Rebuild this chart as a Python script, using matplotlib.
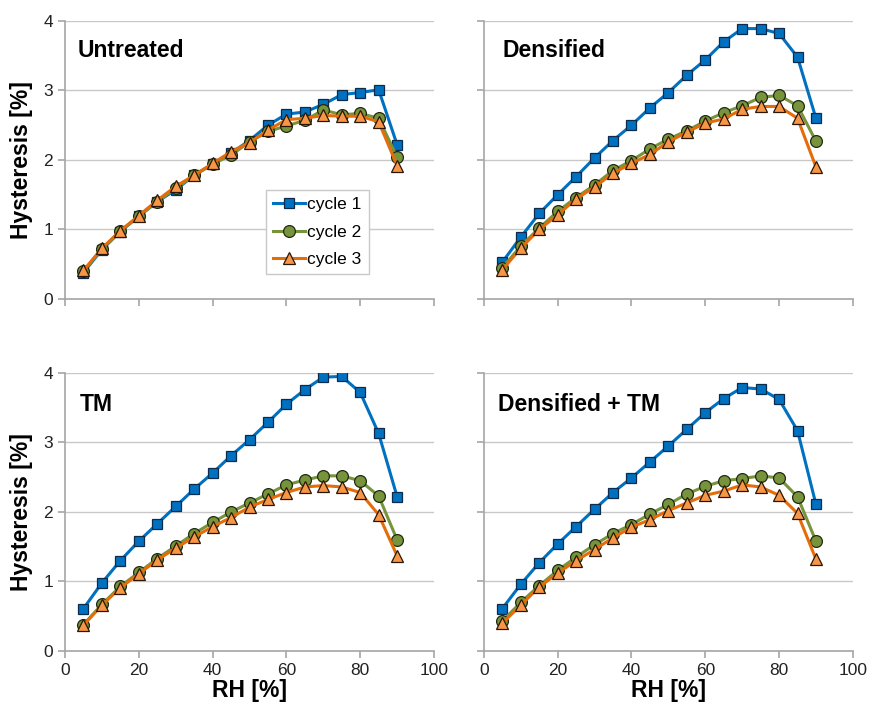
import matplotlib
matplotlib.use("Agg")
import matplotlib.pyplot as plt

plt.rcParams["font.family"] = ["Liberation Sans", "DejaVu Sans"]

rh = [5, 10, 15, 20, 25, 30, 35, 40, 45, 50, 55, 60, 65, 70, 75, 80, 85, 90]

untreated_c1 = [0.38, 0.71, 0.97, 1.19, 1.40, 1.57, 1.78, 1.94, 2.10, 2.28, 2.50, 2.66, 2.69, 2.80, 2.94, 2.97, 3.01, 2.22]
untreated_c2 = [0.40, 0.72, 0.98, 1.19, 1.40, 1.59, 1.78, 1.94, 2.07, 2.26, 2.41, 2.49, 2.57, 2.72, 2.65, 2.67, 2.60, 2.04]
untreated_c3 = [0.41, 0.73, 0.98, 1.20, 1.42, 1.62, 1.78, 1.95, 2.12, 2.25, 2.43, 2.58, 2.60, 2.64, 2.63, 2.63, 2.55, 1.92]

densified_c1 = [0.53, 0.89, 1.23, 1.50, 1.76, 2.03, 2.28, 2.50, 2.75, 2.97, 3.22, 3.44, 3.70, 3.89, 3.89, 3.82, 3.48, 2.60]
densified_c2 = [0.45, 0.76, 1.02, 1.26, 1.46, 1.64, 1.85, 1.99, 2.16, 2.30, 2.42, 2.56, 2.68, 2.78, 2.90, 2.93, 2.78, 2.27]
densified_c3 = [0.42, 0.73, 1.00, 1.21, 1.44, 1.61, 1.81, 1.95, 2.08, 2.26, 2.40, 2.53, 2.59, 2.73, 2.77, 2.77, 2.60, 1.90]

tm_c1 = [0.61, 0.98, 1.30, 1.58, 1.83, 2.08, 2.33, 2.56, 2.81, 3.04, 3.29, 3.55, 3.76, 3.94, 3.95, 3.72, 3.13, 2.22]
tm_c2 = [0.38, 0.67, 0.93, 1.13, 1.33, 1.51, 1.69, 1.85, 2.00, 2.13, 2.26, 2.39, 2.46, 2.52, 2.52, 2.45, 2.23, 1.60]
tm_c3 = [0.37, 0.66, 0.91, 1.11, 1.31, 1.48, 1.64, 1.79, 1.92, 2.07, 2.18, 2.28, 2.36, 2.38, 2.36, 2.28, 1.96, 1.37]

dtm_c1 = [0.61, 0.96, 1.27, 1.54, 1.79, 2.04, 2.28, 2.49, 2.72, 2.95, 3.19, 3.43, 3.63, 3.79, 3.77, 3.62, 3.17, 2.11]
dtm_c2 = [0.43, 0.70, 0.94, 1.16, 1.35, 1.53, 1.69, 1.82, 1.97, 2.11, 2.26, 2.37, 2.45, 2.48, 2.52, 2.49, 2.22, 1.58]
dtm_c3 = [0.40, 0.66, 0.92, 1.12, 1.30, 1.46, 1.63, 1.78, 1.89, 2.02, 2.13, 2.24, 2.30, 2.39, 2.36, 2.24, 1.98, 1.32]

panels = [
    ("Untreated", untreated_c1, untreated_c2, untreated_c3),
    ("Densified", densified_c1, densified_c2, densified_c3),
    ("TM", tm_c1, tm_c2, tm_c3),
    ("Densified + TM", dtm_c1, dtm_c2, dtm_c3),
]

fig = plt.figure(figsize=(8.75, 7.08), dpi=100)
positions = [
    [0.0743, 0.5777, 0.4217, 0.3927],
    [0.553, 0.5777, 0.4217, 0.3927],
    [0.0743, 0.0805, 0.4217, 0.3927],
    [0.553, 0.0805, 0.4217, 0.3927],
]
title_pos = [(0.033, 0.892), (0.05, 0.892), (0.04, 0.885), (0.038, 0.885)]

grey = "#a6a6a6"

for i, (name, c1, c2, c3) in enumerate(panels):
    ax = fig.add_axes(positions[i])
    ax.plot(rh, c1, color="#0070c0", lw=2.2, marker="s", ms=7,
            mfc="#0070c0", mec="#0d2b4a", mew=0.9, label="cycle 1", zorder=3)
    ax.plot(rh, c2, color="#77933c", lw=2.2, marker="o", ms=8.5,
            mfc="#77933c", mec="#1f2a10", mew=0.9, label="cycle 2", zorder=4)
    ax.plot(rh, c3, color="#e46c0a", lw=2.2, marker="^", ms=9,
            mfc="#f79646", mec="#2a1605", mew=0.9, label="cycle 3", zorder=5)

    ax.set_xlim(0, 100)
    ax.set_ylim(0, 4)
    ax.set_xticks(range(0, 101, 20))
    ax.set_yticks(range(0, 5))
    ax.grid(axis="y", color="#c8c8c8", lw=1)
    ax.set_axisbelow(True)
    for s in ["top", "right"]:
        ax.spines[s].set_visible(False)
    for s in ["left", "bottom"]:
        ax.spines[s].set_color(grey)
        ax.spines[s].set_linewidth(1.2)
    ax.tick_params(colors=grey, labelcolor="#222222", labelsize=12.5,
                   length=5, width=1.2, direction="out")

    tx, ty = title_pos[i]
    ax.text(tx, ty, name, transform=ax.transAxes, fontsize=16.5,
            fontweight="bold", va="center", ha="left")

    if i % 2 == 0:
        ax.set_ylabel("Hysteresis [%]", fontsize=16.5, fontweight="bold")
        ax.yaxis.set_label_coords(-0.087, 0.5)
    else:
        ax.tick_params(labelleft=False)
    if i < 2:
        ax.tick_params(labelbottom=False)
    else:
        ax.set_xlabel("RH [%]", fontsize=16.5, fontweight="bold", labelpad=1)

    if i == 0:
        leg = ax.legend(loc="lower left", bbox_to_anchor=(0.546, 0.09),
                        borderaxespad=0, fontsize=12.5, frameon=True,
                        fancybox=False, handlelength=1.8, borderpad=0.4,
                        labelspacing=0.7, handletextpad=0.15)
        leg.get_frame().set_edgecolor("#c8c8c8")
        leg.get_frame().set_linewidth(1)
        leg.get_frame().set_alpha(1)

fig.savefig("out.png", dpi=100)
